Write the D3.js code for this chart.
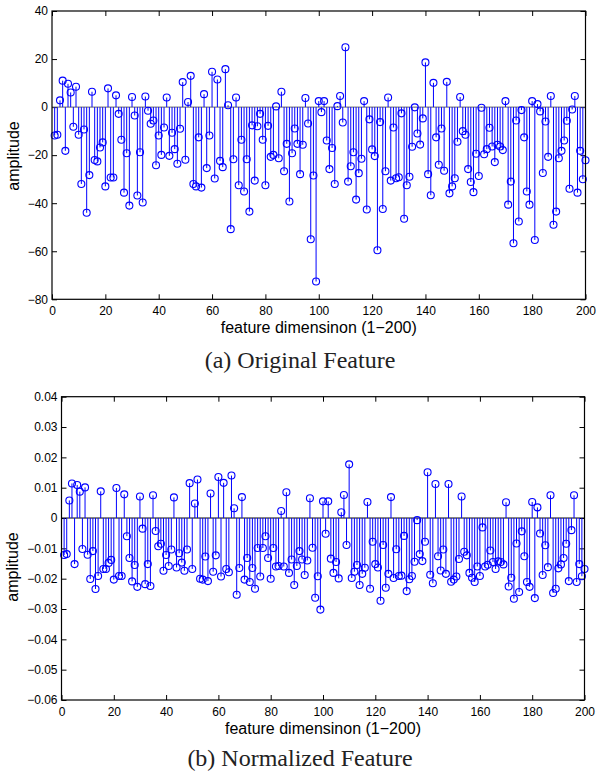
<!DOCTYPE html>
<html>
<head>
  <meta charset="utf-8">
  <script src="https://d3js.org/d3.v7.min.js"></script>
  <style>
    body {
      margin: 0px;
      background: #fff;
    }
    .tick text {
      font-family: "Liberation Sans", Arial, sans-serif;
      font-size: 12px;
      fill: #000;
    }
    .tick line {
      stroke: #000;
    }
    .axis-label {
      font-family: "Liberation Sans", Arial, sans-serif;
      font-size: 16px;
      fill: #000;
    }
    .caption {
      font-family: "Liberation Serif", "Times New Roman", serif;
      font-size: 24px;
      fill: #222;
    }
  </style>
</head>
<body>
  <svg width="597" height="775"></svg>
  <script>

    // feature index 1..200
    const dims = d3.range(1, 201);

    // (a) original feature values
    const origValues = [
      -11.8, -11.5, 2.8, 11, -18.2, 9.7, 6.1, -8.2, 8.5, -11.5,
      -32, -9.3, -44, -28.3, 6.4, -22, -22.6, -16.8, -14.7, -33,
      7.8, -29.3, -29.3, 4.9, -2.8, -13.6, -35.6, -19.2, -41, 4.2,
      -3.5, -36.8, -18.8, -39.7, 4.4, -1.5, -6.9, -5.6, -24.2, -11.8,
      -19.9, -8.5, 4.0, -20.3, -10.7, -17.5, -23.6, -9.0, 10.4, -21.9,
      2.1, 13, -32, -33, -12.6, -33.5, 5.4, -25.4, -11.8, 14.7,
      -29.7, 11.5, -22.4, -25, 15.8, 0.8, -50.8, -21.7, 4.0, -32.5,
      -13.6, -35.1, -21.7, -43.5, -7.6, -30.6, -8, -2.8, -13.6, -32.5,
      -7.8, -20.7, -19.9, 0.3, -21.3, 6.4, -26.7, -15.3, -39.3, -19.2,
      -8.9, -15.3, -27.9, -15.7, 3.8, -6.8, -55, -28.5, -72.6, 2.5,
      -2.1, 2.5, -13.9, -25.8, -17, -32, 0.4, 4.6, -6.4, 24.9,
      -31, -24.6, -18.8, -38.5, -27.5, -21.5, 2.5, -42.6, -5.1, -17.6,
      -20.4, -59.6, -6.25, -42.4, -26.7, 4.0, -30.6, -8.5, -29.6, -29.2,
      -2.6, -46.5, -32.5, -29, -16.5, -0.1, -11, -15.6, -4.7, 18.6,
      -27.9, -36.7, 10.1, -12.6, -24, -8.9, -26.5, 10.5, -35.9, -33,
      -29.6, -14.4, 4.2, -10, -11.5, -25.8, -31.2, -35.4, -19.4, -28.7,
      -0.3, -19.6, -17.5, -8.6, -16.4, -22.9, -15.7, -16.4, -17.9, 2.5,
      -40.6, -31, -56.7, -5.6, -47.6, -1.25, -12.6, -35.1, -40.6, 2.5,
      -55.3, 1.25, -1.8, -27.4, -6, -20.7, 4.6, -49, -43.5, -21.3,
      -18.2, -13.9, -5.7, -34, -1, 4.6, -35.6, -18.2, -30, -22.1
    ];

    // (b) normalized feature values
    const normValues = [
      -0.0122, -0.0119, 0.0058, 0.0114, -0.0152, 0.0109, 0.0087, -0.0102, 0.0101, -0.0121,
      -0.0201, -0.0109, -0.0234, -0.0191, 0.0088, -0.0168, -0.0168, -0.0148, -0.0138, -0.0203,
      0.0099, -0.0191, -0.0191, 0.0078, -0.0060, -0.0132, -0.0209, -0.0155, -0.0227, 0.0071,
      -0.0035, -0.0218, -0.0152, -0.0224, 0.0075, -0.0043, -0.0093, -0.0085, -0.0174, -0.0122,
      -0.0158, -0.0104, 0.0068, -0.0163, -0.0116, -0.0147, -0.0174, -0.0104, 0.0115, -0.0168,
      0.0048, 0.0127, -0.0200, -0.0203, -0.0127, -0.0208, 0.0081, -0.0177, -0.0123, 0.0135,
      -0.0193, 0.0116, -0.0168, -0.0179, 0.0140, 0.0032, -0.0253, -0.0165, 0.0069, -0.0203,
      -0.0132, -0.0211, -0.0165, -0.0233, -0.0099, -0.0193, -0.0099, -0.0060, -0.0132, -0.0200,
      -0.0099, -0.0160, -0.0158, 0.0023, -0.0160, 0.0085, -0.0181, -0.0137, -0.0221, -0.0158,
      -0.0109, -0.0137, -0.0188, -0.0140, 0.0065, -0.0098, -0.0263, -0.0192, -0.0302, 0.0055,
      -0.0052, 0.0055, -0.0134, -0.0181, -0.0145, -0.0199, 0.0019, 0.0076, -0.0089, 0.0177,
      -0.0198, -0.0177, -0.0155, -0.0221, -0.0184, -0.0164, 0.0053, -0.0233, -0.0078, -0.0152,
      -0.0163, -0.0273, -0.0089, -0.0230, -0.0184, 0.0069, -0.0198, -0.0103, -0.0191, -0.0190,
      -0.0059, -0.0241, -0.0202, -0.0191, -0.0144, -0.0007, -0.0119, -0.0142, -0.0078, 0.0151,
      -0.0187, -0.0215, 0.0112, -0.0126, -0.0173, -0.0104, -0.0184, 0.0112, -0.0210, -0.0203,
      -0.0193, -0.0135, 0.0071, -0.0111, -0.0123, -0.0181, -0.0197, -0.0211, -0.0160, -0.0191,
      -0.0031, -0.0160, -0.0154, -0.0107, -0.0145, -0.0168, -0.0143, -0.0145, -0.0153, 0.0052,
      -0.0226, -0.0197, -0.0266, -0.0084, -0.0244, -0.0044, -0.0126, -0.0211, -0.0227, 0.0053,
      -0.0264, 0.0035, -0.0051, -0.0188, -0.0090, -0.0162, 0.0075, -0.0247, -0.0233, -0.0166,
      -0.0153, -0.0132, -0.0085, -0.0208, -0.0040, 0.0075, -0.0211, -0.0152, -0.0192, -0.0168
    ];

    // tick values
    const xTickValues = [0, 20, 40, 60, 80, 100, 120, 140, 160, 180, 200];
    const origYTicks = [-80, -60, -40, -20, 0, 20, 40];
    const normYTicks = [-0.06, -0.05, -0.04, -0.03, -0.02, -0.01, 0, 0.01, 0.02, 0.03, 0.04];

    const svg = d3.select('svg');

    function drawPanel(p) {
      const xScale = d3.scaleLinear().domain([0, 200]).range([p.left, p.right]);
      const yScale = d3.scaleLinear().domain(p.yDomain).range([p.bottom, p.top]);
      const g = svg.append('g');

      // ticks on all four sides, pointing inwards
      g.append('g')
        .attr('transform', `translate(0,${p.bottom})`)
        .call(d3.axisBottom(xScale).tickValues(xTickValues).tickSize(-5).tickPadding(7))
        .call(a => a.select('.domain').remove());
      g.append('g')
        .attr('transform', `translate(0,${p.top})`)
        .call(d3.axisTop(xScale).tickValues(xTickValues).tickSize(-5).tickFormat(''))
        .call(a => a.select('.domain').remove());
      g.append('g')
        .attr('transform', `translate(${p.left},0)`)
        .call(d3.axisLeft(yScale).tickValues(p.yTicks).tickSize(-5).tickPadding(p.yPad).tickFormat(p.yFormat))
        .call(a => a.select('.domain').remove());
      g.append('g')
        .attr('transform', `translate(${p.right},0)`)
        .call(d3.axisRight(yScale).tickValues(p.yTicks).tickSize(-5).tickFormat(''))
        .call(a => a.select('.domain').remove());

      // baseline
      g.append('line')
        .attr('x1', p.left).attr('x2', p.right)
        .attr('y1', yScale(0)).attr('y2', yScale(0))
        .attr('stroke', p.baseColor).attr('stroke-width', 1);

      // stems
      g.selectAll('.stem').data(p.values)
        .enter().append('line')
        .attr('class', 'stem')
        .attr('x1', (d, i) => xScale(dims[i]))
        .attr('x2', (d, i) => xScale(dims[i]))
        .attr('y1', yScale(0))
        .attr('y2', d => yScale(d))
        .attr('stroke', '#0000ff')
        .attr('stroke-width', 1);

      // markers
      g.selectAll('.mark').data(p.values)
        .enter().append('circle')
        .attr('class', 'mark')
        .attr('cx', (d, i) => xScale(dims[i]))
        .attr('cy', d => yScale(d))
        .attr('r', 3.5)
        .attr('fill', 'none')
        .attr('stroke', '#0000ff')
        .attr('stroke-width', 1.1);

      // box
      g.append('rect')
        .attr('x', p.left).attr('y', p.top)
        .attr('width', p.right - p.left).attr('height', p.bottom - p.top)
        .attr('fill', 'none').attr('stroke', '#000').attr('stroke-width', 1.2);

      // labels
      g.append('text')
        .attr('class', 'axis-label')
        .attr('x', (p.left + p.right) / 2)
        .attr('y', p.bottom + 34)
        .attr('text-anchor', 'middle')
        .text('feature dimensinon (1\u2212200)');

      g.append('text')
        .attr('class', 'axis-label')
        .attr('transform', `translate(${p.ylabX},${p.ylabY}) rotate(-90)`)
        .attr('text-anchor', 'middle')
        .text('amplitude');

      g.append('text')
        .attr('class', 'caption')
        .attr('x', 300)
        .attr('y', p.captionY)
        .attr('text-anchor', 'middle')
        .text(p.caption);
    }

    drawPanel({
      values: origValues,
      left: 52, right: 585.5, top: 11, bottom: 299.3,
      yDomain: [-80, 40], yTicks: origYTicks, yPad: 4,
      yFormat: d3.format('d'),
      baseColor: '#666',
      ylabX: 19, ylabY: 156,
      caption: '(a) Original Feature', captionY: 368
    });

    drawPanel({
      values: normValues,
      left: 61.5, right: 584.5, top: 396.7, bottom: 700,
      yDomain: [-0.06, 0.04], yTicks: normYTicks, yPad: 4,
      yFormat: d => d === 0 ? '0' : d3.format('.2f')(d),
      baseColor: '#000',
      ylabX: 18, ylabY: 567,
      caption: '(b) Normalized Feature', captionY: 766
    });

  </script>
</body>
</html>
